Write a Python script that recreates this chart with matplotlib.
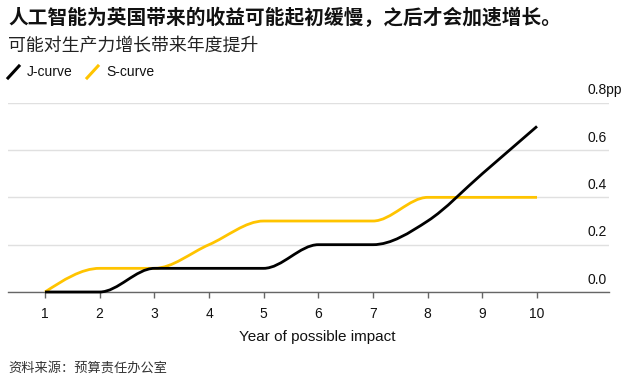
import matplotlib
matplotlib.use("Agg")
import matplotlib.pyplot as plt
import numpy as np
from matplotlib.path import Path
from matplotlib.patches import PathPatch
from matplotlib.lines import Line2D

# data
years = [1, 2, 3, 4, 5, 6, 7, 8, 9, 10]
j_curve = [0.0, 0.0, 0.1, 0.1, 0.1, 0.2, 0.2, 0.3, 0.5, 0.7]
s_curve = [0.0, 0.1, 0.1, 0.2, 0.3, 0.3, 0.3, 0.4, 0.4, 0.4]
y_ticks = [0.0, 0.2, 0.4, 0.6, 0.8]
y_labels = ["0.0", "0.2", "0.4", "0.6", "0.8pp"]

title = "人工智能为英国带来的收益可能起初缓慢，之后才会加速增长。"
subtitle = "可能对生产力增长带来年度提升"
source = "资料来源：预算责任办公室"

BLACK = "#000000"
YELLOW = "#FFC400"
cjk = ["Noto Sans CJK SC", "DejaVu Sans"]
latin = ["Liberation Sans", "DejaVu Sans"]
plt.rcParams["font.family"] = latin


def monotone_path(x, y):
    # smooth monotone cubic (like d3 curveMonotoneX), drawn as bezier segments
    x = np.asarray(x, float)
    y = np.asarray(y, float)
    n = len(x)
    h = np.diff(x)
    s = np.diff(y) / h
    t = np.zeros(n)
    for i in range(1, n - 1):
        p = (s[i - 1] * h[i] + s[i] * h[i - 1]) / (h[i - 1] + h[i])
        t[i] = (np.sign(s[i - 1]) + np.sign(s[i])) * min(abs(s[i - 1]), abs(s[i]), 0.5 * abs(p))
    t[0] = (3 * s[0] - t[1]) / 2
    t[-1] = (3 * s[-1] - t[-2]) / 2
    verts = [(x[0], y[0])]
    codes = [Path.MOVETO]
    for i in range(n - 1):
        dx = h[i] / 3
        verts += [(x[i] + dx, y[i] + dx * t[i]),
                  (x[i + 1] - dx, y[i + 1] - dx * t[i + 1]),
                  (x[i + 1], y[i + 1])]
        codes += [Path.CURVE4] * 3
    return Path(verts, codes)


fig = plt.figure(figsize=(6.3, 3.8), dpi=100)
W, H = 630, 380
ax = fig.add_axes([8 / W, 1 - 292 / H, (609 - 8) / W, (292 - 102.7) / H])

ax.set_xlim(0.323, 11.317)
ax.set_ylim(0, 0.8)

for vals, col in [(s_curve, YELLOW), (j_curve, BLACK)]:
    patch = PathPatch(monotone_path(years, vals), fill=False, edgecolor=col,
                      linewidth=2.0, capstyle="butt", joinstyle="round",
                      clip_on=False, zorder=3)
    ax.add_patch(patch)

ax.set_yticks(y_ticks)
ax.yaxis.grid(True, color="#e0e0e0", linewidth=1.0)
ax.tick_params(axis="y", left=False, labelleft=False)
for v, lab in zip(y_ticks, y_labels):
    # labels sit above their gridline, number right-aligned to the axis end
    ax.annotate(lab, xy=(1.0, v), xycoords=ax.get_yaxis_transform(),
                xytext=(-15.5, 6), textcoords="offset points",
                ha="left", va="baseline", fontsize=10, color="#111111")

ax.set_xticks(years)
ax.tick_params(axis="x", direction="out", length=4, width=1, color="#666666",
               labelsize=10, pad=7, labelcolor="#111111")
for side in ["top", "right", "left"]:
    ax.spines[side].set_visible(False)
ax.spines["bottom"].set_color("#666666")
ax.spines["bottom"].set_linewidth(1.0)
ax.set_axisbelow(True)

fig.text(317 / W, 1 - 337 / H, "Year of possible impact", ha="center", va="center",
         fontsize=11, color="#111111")

fig.text(8 / W, 1 - 18 / H, title, ha="left", va="center", fontsize=14.2,
         fontweight="bold", family=cjk, color="#111111")
fig.text(8 / W, 1 - 46 / H, subtitle, ha="left", va="center", fontsize=12.9,
         family=cjk, color="#222222")
fig.text(8 / W, 1 - 368 / H, source, ha="left", va="center", fontsize=9.5,
         family=cjk, color="#333333")

# legend
for x0, col, lab in [(8, BLACK, "J-curve"), (87, YELLOW, "S-curve")]:
    fig.add_artist(Line2D([x0 / W, (x0 + 11) / W], [1 - 78 / H, 1 - 66 / H],
                          transform=fig.transFigure, color=col, linewidth=2.2))
    fig.text((x0 + 19) / W, 1 - 72 / H, lab, ha="left", va="center",
             fontsize=10, color="#111111")

fig.savefig("out.png", dpi=100)
